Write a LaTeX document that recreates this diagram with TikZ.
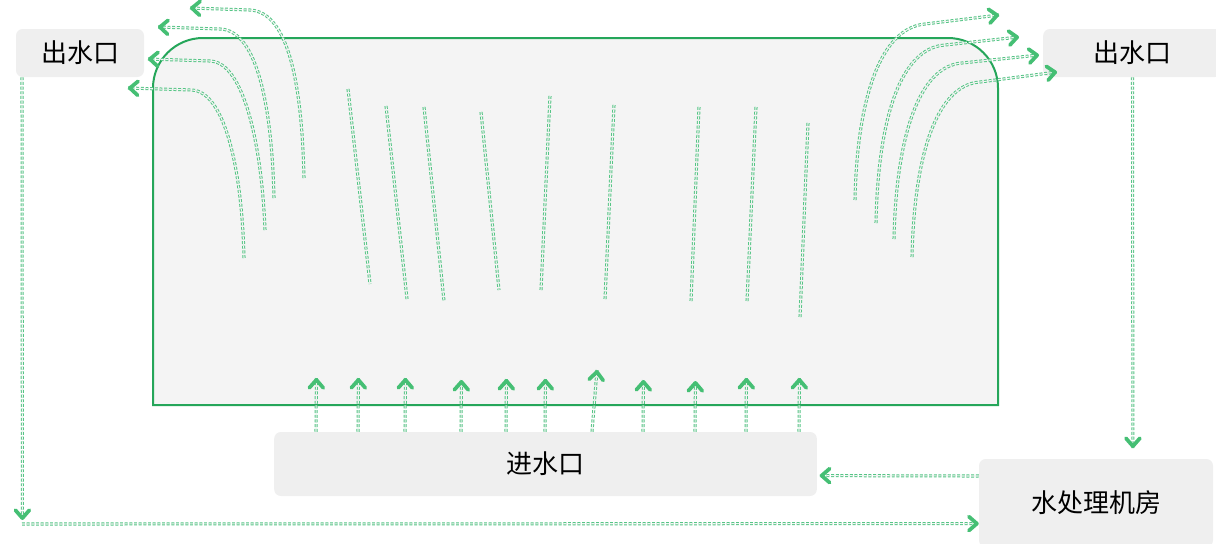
\documentclass[tikz,border=0pt]{standalone}
\usepackage{fontspec}
\usepackage{xcolor}
\usetikzlibrary{arrows.meta}
\newfontfamily\cjk{Noto Sans CJK SC}

\begin{document}
\begin{tikzpicture}[x=0.75pt,y=-0.75pt,
  box/.style={fill=boxgray,rounded corners=5pt,inner sep=0pt,font=\cjk\fontsize{19.5}{22}\selectfont},
  flow/.style={draw=flowgreen,line width=2.3pt,dash pattern=on 2.2pt off 1.3pt,
    postaction={draw=tankgray,line width=0.8pt,dash pattern=on 2.2pt off 1.3pt}},
  flowarr/.style={flow,postaction={tips,color=tipgreen,line width=2.8pt,
    -{Straight Barb[length=6pt,width=10.5pt,round]}}}]
\definecolor{boxgray}{HTML}{EFEFEF}
\definecolor{tankgray}{HTML}{F4F4F4}
\definecolor{tankgreen}{HTML}{25A65A}
\definecolor{flowgreen}{HTML}{55C585}
\definecolor{tipgreen}{HTML}{45BF74}
\useasboundingbox (0,0) rectangle (1216,543);
% tank
\draw[tankgreen,fill=tankgray,line width=1.5pt] (153,405) -- (153,88) arc (180:270:50) -- (948,38) arc (270:360:50) -- (998,405) -- cycle;
% boxes
\node[box,minimum width=96pt,minimum height=36pt] (outL) at (80,53) {出水口};
\node[box,minimum width=134pt,minimum height=36pt] (outR) at (1132.5,53) {出水口};
\node[box,minimum width=407pt,minimum height=48pt] (inlet) at (545.5,464) {进水口};
\node[box,minimum width=175.5pt,minimum height=66pt] (plant) at (1096,503) {水处理机房};
% falling water
\foreach \xa/\ya/\xb/\yb in {348/89/370/284, 386/106/407/299, 424/107/444/301, 481/112/499/290, 550/96/541/290, 614/105/605/299, 699/107/691/301, 756/107/747/301, 808/123/800/317}
  \draw[flow] (\xa,\ya) -- (\xb,\yb);
% jets from inlet
\foreach \xa/\xb/\yb in {316/316.4/378, 358/358.4/378, 405/405.4/378, 461/461.4/380, 506/506.4/379, 545/545.4/379, 592/597/370, 643/643.4/380, 695/695.4/381, 746/746.4/378, 799/799.4/378}
  \draw[flowarr] (inlet.north -| \xa,0) -- (\xb,\yb);
% overflow left
\draw[flowarr] (244,258) .. controls (242,170) and (225,92) .. (192,90) -- (128,88);
\draw[flowarr] (265,230) .. controls (262,150) and (245,62) .. (210,61) -- (148,59);
\draw[flowarr] (274,198) .. controls (272,110) and (258,30) .. (220,29) -- (158,27);
\draw[flowarr] (304,178) .. controls (302,90) and (290,12) .. (250,10) -- (190,8);
% overflow right
\draw[flowarr] (855,200) .. controls (857,100) and (880,28) .. (925,24) -- (999,15);
\draw[flowarr] (876,223) .. controls (878,120) and (900,48) .. (945,45) -- (1019,37);
\draw[flowarr] (894,239) .. controls (896,140) and (918,66) .. (962,63) -- (1039,55);
\draw[flowarr] (912,257) .. controls (914,160) and (935,85) .. (980,82) -- (1057,72);
% circuit
\coordinate (corner) at (22,524);
\draw[flowarr] (outL.south -| 22,0) -- ([xshift=0.3pt,yshift=3pt]corner);
\draw[flowarr] (corner) -- ([yshift=0.3pt]plant.west |- corner);
\draw[flowarr] (outR.south) -- ([xshift=0.3pt,yshift=8pt]outR.south |- plant.north);
\draw[flowarr] (plant.west |- 0,476) -- ([yshift=0.3pt,xshift=2pt]inlet.east |- 0,476);
\end{tikzpicture}
\end{document}
